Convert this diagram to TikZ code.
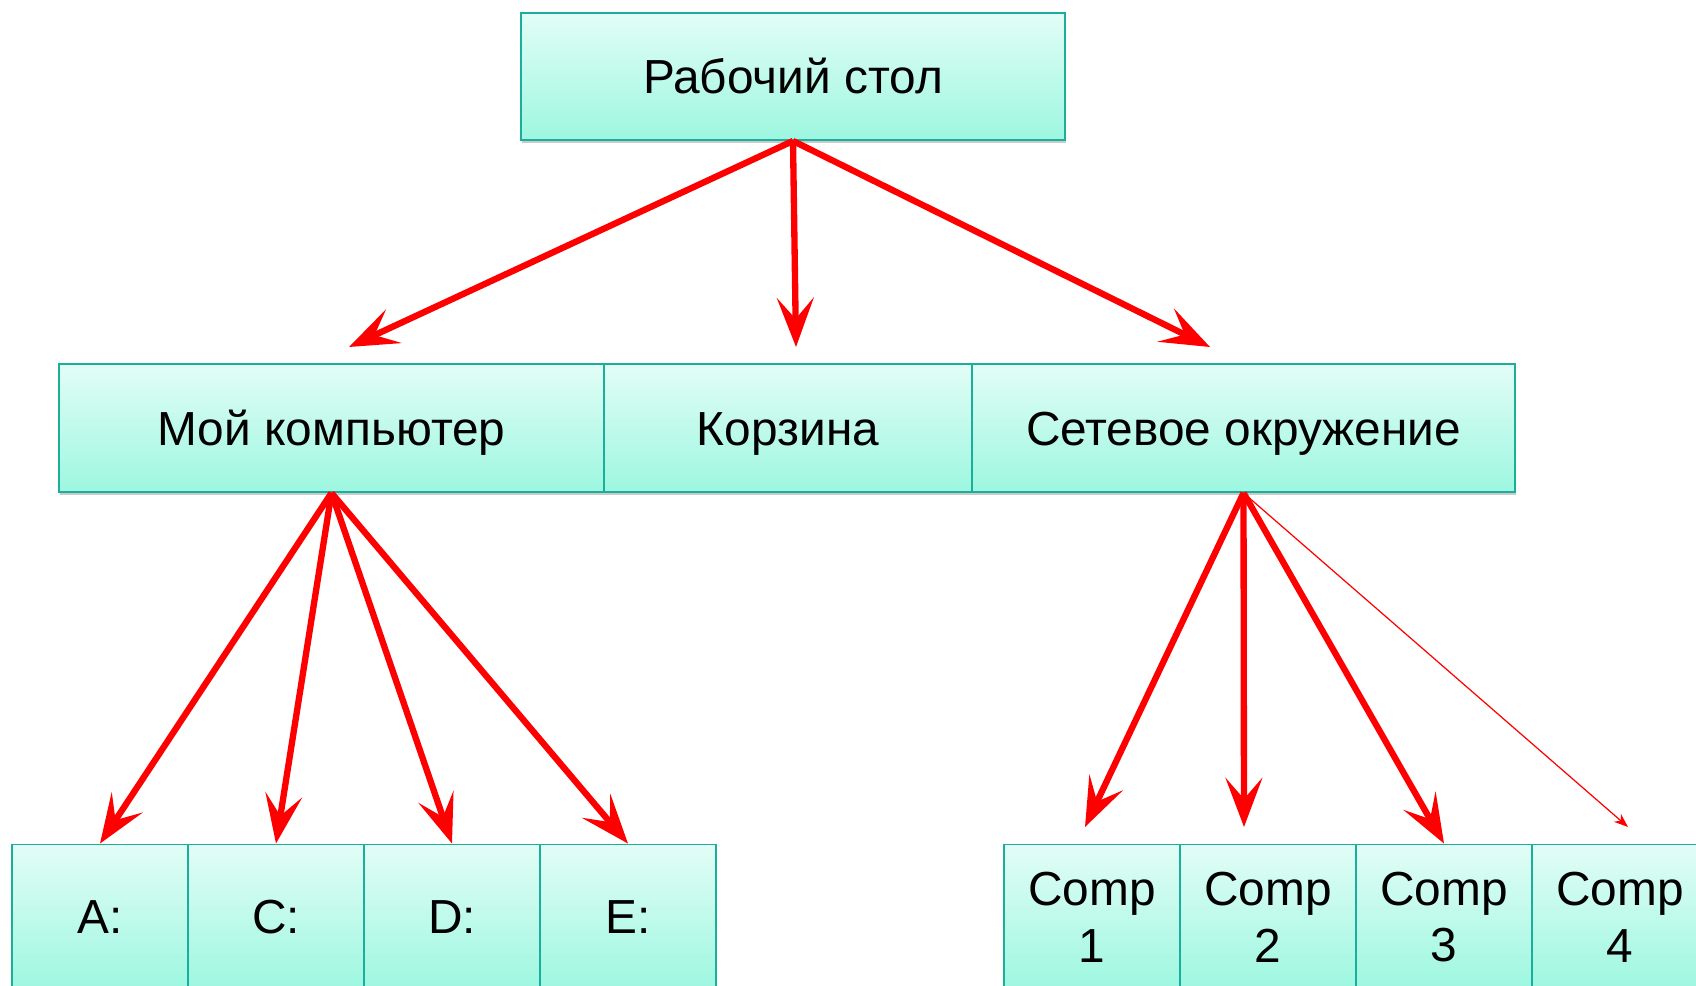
\documentclass[tikz,border=0pt]{standalone}
\usepackage{fontspec}
\setmainfont{Liberation Sans}
\usetikzlibrary{arrows.meta,shadows}

\definecolor{boxtop}{HTML}{E2FDF6}
\definecolor{boxbot}{HTML}{9DF7E0}
\definecolor{boxline}{HTML}{1BAE9B}

\tikzset{
	folder/.style={draw=boxline,line width=1.1pt,top color=boxtop,bottom color=boxbot,
		minimum height=2.56cm,inner sep=0pt,align=center,
		font=\fontsize{27.2}{32.3}\selectfont,
		drop shadow={shadow xshift=0.6pt,shadow yshift=-1.6pt,opacity=0.35,fill=black!60}},
	midrow/.style={folder,text height=24pt,text depth=4.2pt},
	link/.style={draw=red,line width=3.6pt,-{Stealth[length=28pt,width=21pt,inset=12pt]}},
	thinlink/.style={draw=red,line width=0.7pt,-{Stealth[length=8pt,width=6pt,inset=2.5pt]}}
}

\begin{document}
\begin{tikzpicture}[x=0.02cm,y=-0.02cm]
	\useasboundingbox (0,0) rectangle (1696,986);
	\clip (0,0) rectangle (1696,986);
	
	\node[folder,minimum width=10.88cm,minimum height=2.54cm] (desk) at (793,76.5) {Рабочий стол};
	
	\node[midrow,minimum width=10.9cm] (mycomp) at (331.5,428) {Мой компьютер};
	\node[midrow,minimum width=7.36cm] (bin) at (788,428) {Корзина};
	\node[midrow,minimum width=10.86cm] (net) at (1243.5,428) {Сетевое окружение};
	
	\foreach \t [count=\i] in {A:,C:,D:,E:}{
	\node[folder,minimum width=3.52cm,minimum height=2.9cm] (drv\i) at ({12+176*(\i-0.5)},917) {\t};
	}
	\foreach \i in {1,...,4}{
	\node[folder,minimum width=3.52cm,minimum height=2.9cm] (pc\i) at ({1004+176*(\i-0.5)},917) {Comp\\\i};
	}
	
	%free ends of the arrows
	\coordinate (toMy) at (349,347);
	\coordinate (toBin) at (796,347);
	\coordinate (toNet) at (1210,347);
	\coordinate (toPc1) at (1085,827);
	\coordinate (toPc2) at (1244,827);
	\coordinate (toPc4) at (1628,827);
	
	\draw[link] (desk.south)--(toMy);
	\draw[link] (desk.south)--(toBin);
	\draw[link] (desk.south)--(toNet);
	
	\foreach \i in {1,...,4}{
	\draw[link] (mycomp.south)--(drv\i.north);
	}
	
	\draw[link] (net.south)--(toPc1);
	\draw[link] (net.south)--(toPc2);
	\draw[link] (net.south)--(pc3.north);
	\draw[thinlink] (net.south)--(toPc4);
\end{tikzpicture}
\end{document}
